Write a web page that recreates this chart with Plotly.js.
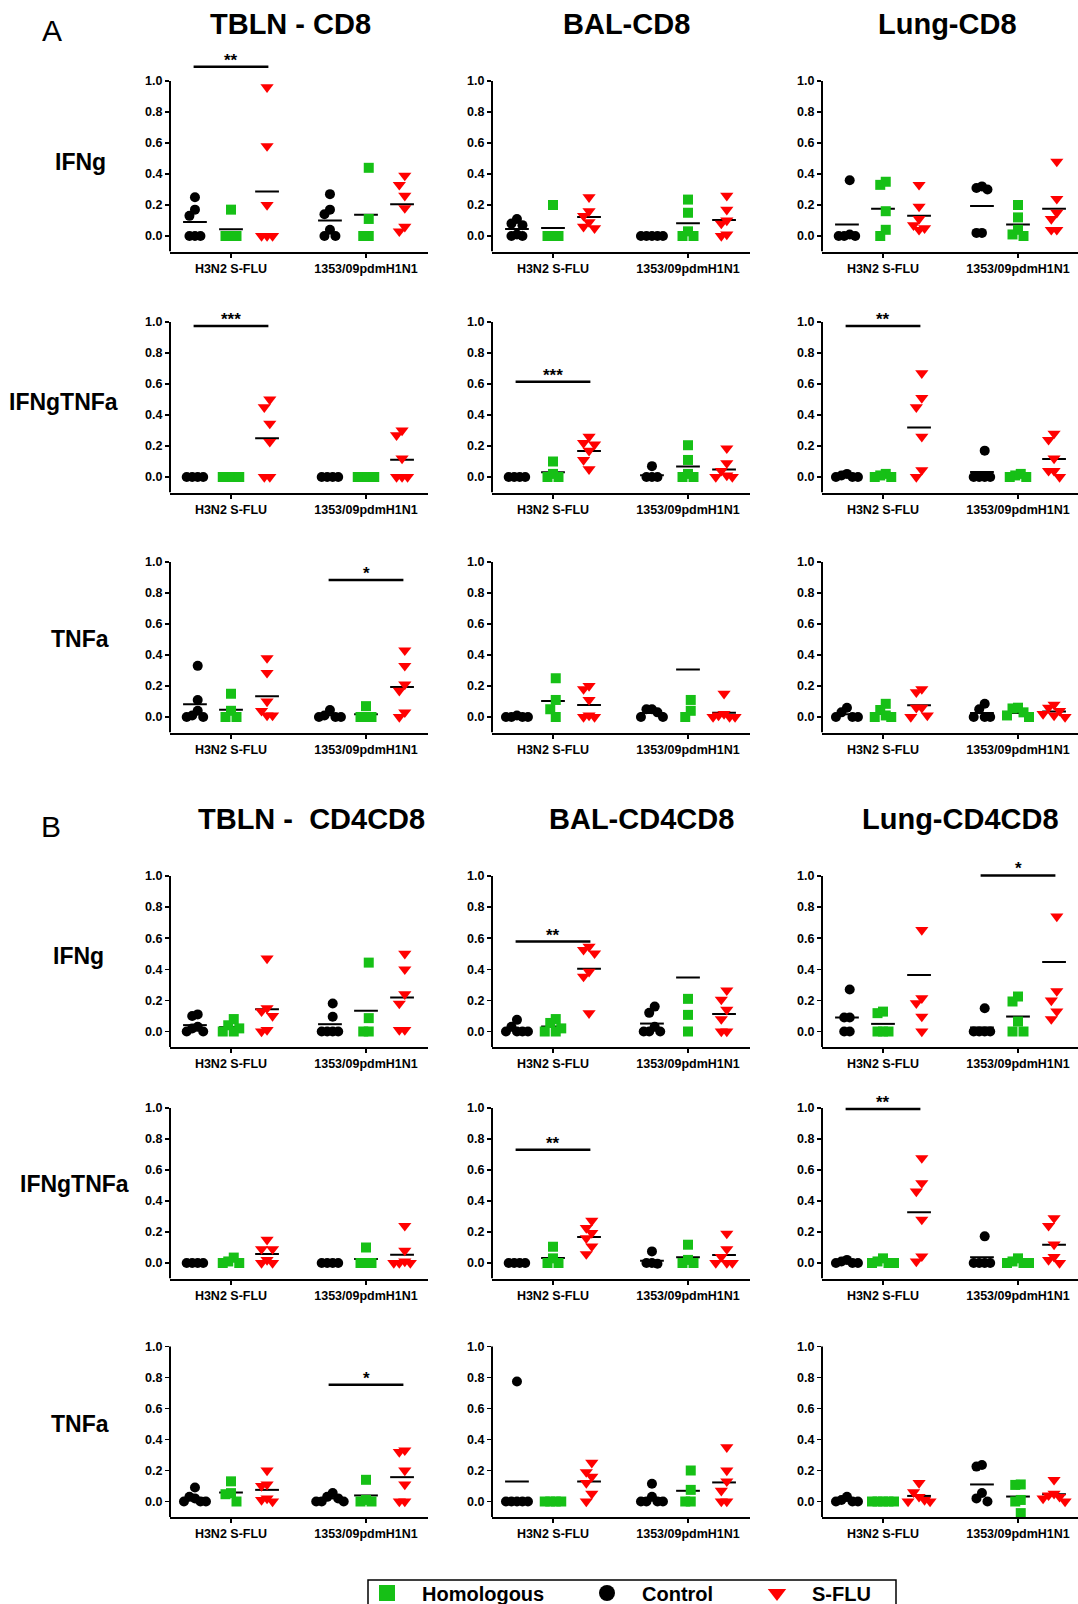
<!DOCTYPE html>
<html><head><meta charset="utf-8">
<script src="https://cdn.plot.ly/plotly-3.0.1.min.js"></script>
<style>html,body{margin:0;padding:0;background:#fff}#chart{width:1078px;height:1604px}</style>
</head><body><div id="chart"></div>
<script>
// ---------------- data ----------------
const categories = ['H3N2 S-FLU', '1353/09pdmH1N1'];
const groups = ['Control', 'Homologous', 'S-FLU'];
const legendOrder = ['Homologous', 'Control', 'S-FLU'];
const sectionLetters = ['A', 'B'];
const cytokines = ['IFNg', 'IFNgTNFa', 'TNFa'];
const titlesA = ['TBLN - CD8', 'BAL-CD8', 'Lung-CD8'];
const titlesB = ['TBLN -  CD4CD8', 'BAL-CD4CD8', 'Lung-CD4CD8'];
const yTickValues = [0, 0.2, 0.4, 0.6, 0.8, 1.0];

// each array: [H3N2 S-FLU values, 1353/09pdmH1N1 values]; means: [[Control, Homologous, S-FLU], [...]]
const A_IFNg_TBLN_control    = [[0.25,0.17,0.13,0,0,0],[0.27,0.17,0.14,0.04,0,0]];
const A_IFNg_TBLN_homologous = [[0.17,0,0,0],[0.44,0.11,0,0]];
const A_IFNg_TBLN_sflu       = [[0.96,0.58,0.2,0,0,0],[0.39,0.33,0.26,0.18,0.03,0.06]];
const A_IFNg_TBLN_means      = [[0.09,0.043,0.287],[0.10,0.137,0.205]];

const A_IFNg_BAL_control     = [[0.11,0.08,0.07,0.01,0,0],[0,0,0,0,0]];
const A_IFNg_BAL_homologous  = [[0.2,0,0,0],[0.235,0.15,0.03,0,0]];
const A_IFNg_BAL_sflu        = [[0.25,0.16,0.13,0.09,0.06,0.05],[0.26,0.17,0.10,0.08,0.01,0]];
const A_IFNg_BAL_means       = [[0.045,0.051,0.122],[0,0.083,0.103]];

const A_IFNg_Lung_control    = [[0.36,0.01,0,0,0],[0.31,0.32,0.30,0.02,0.02]];
const A_IFNg_Lung_homologous = [[0.33,0.35,0.16,0.04,0],[0.2,0.12,0.04,0.01,0]];
const A_IFNg_Lung_sflu       = [[0.33,0.19,0.11,0.07,0.05,0.04],[0.48,0.24,0.15,0.11,0.04,0.04]];
const A_IFNg_Lung_means      = [[0.075,0.176,0.131],[0.193,0.075,0.176]];

const A_IFNgTNFa_TBLN_control    = [[0,0,0,0],[0,0,0,0]];
const A_IFNgTNFa_TBLN_homologous = [[0,0,0,0],[0,0,0,0]];
const A_IFNgTNFa_TBLN_sflu       = [[0.5,0.45,0.345,0.227,0,0],[0.27,0.3,0.12,0,0,0]];
const A_IFNgTNFa_TBLN_means      = [[0,0,0.25],[0,0,0.112]];

const A_IFNgTNFa_BAL_control    = [[0,0,0,0],[0.07,0,0,0]];
const A_IFNgTNFa_BAL_homologous = [[0.1,0.02,0,0],[0.205,0.11,0.02,0,0]];
const A_IFNgTNFa_BAL_sflu       = [[0.26,0.22,0.21,0.17,0.11,0.05],[0.185,0.09,0.04,0.01,0,0]];
const A_IFNgTNFa_BAL_means      = [[0,0.031,0.168],[0.012,0.067,0.049]];

const A_IFNgTNFa_Lung_control    = [[0.02,0.01,0,0,0],[0.17,0,0,0,0]];
const A_IFNgTNFa_Lung_homologous = [[0.02,0.01,0,0],[0.02,0.01,0,0]];
const A_IFNgTNFa_Lung_sflu       = [[0.67,0.51,0.45,0.26,0.045,0],[0.28,0.24,0.12,0.04,0.04,0]];
const A_IFNgTNFa_Lung_means      = [[0.005,0.006,0.32],[0.032,0.006,0.116]];

const A_TNFa_TBLN_control    = [[0.33,0.11,0.04,0.01,0,0],[0.045,0.01,0,0,0]];
const A_TNFa_TBLN_homologous = [[0.15,0.04,0,0],[0.07,0,0,0]];
const A_TNFa_TBLN_sflu       = [[0.38,0.285,0.1,0.04,0.01,0.01],[0.43,0.33,0.21,0.17,0.03,0]];
const A_TNFa_TBLN_means      = [[0.082,0.047,0.134],[0.012,0.017,0.194]];

const A_TNFa_BAL_control    = [[0.01,0,0,0,0],[0.05,0.05,0.03,0,0]];
const A_TNFa_BAL_homologous = [[0.25,0.11,0.05,0],[0.11,0.04,0]];
const A_TNFa_BAL_sflu       = [[0.2,0.18,0.11,0.01,0,0],[0.15,0.02,0.01,0,0,0]];
const A_TNFa_BAL_means      = [[0.003,0.103,0.078],[0.026,0.306,0.027]];

const A_TNFa_Lung_control    = [[0.06,0.03,0,0,0],[0.085,0.05,0,0,0]];
const A_TNFa_Lung_homologous = [[0.085,0.045,0.01,0,0],[0.06,0.055,0.03,0.01,0]];
const A_TNFa_Lung_sflu       = [[0.18,0.16,0.06,0.06,0.01,0],[0.08,0.06,0.04,0.02,0.01,0]];
const A_TNFa_Lung_means      = [[0.017,0.026,0.075],[0.026,0.026,0.035]];

const B_IFNg_TBLN_control    = [[0.11,0.10,0.03,0.02,0,0],[0.18,0.095,0,0,0,0]];
const B_IFNg_TBLN_homologous = [[0.08,0.04,0.02,0,0],[0.443,0.086,0,0]];
const B_IFNg_TBLN_sflu       = [[0.47,0.15,0.13,0.1,0,0.01],[0.5,0.4,0.24,0.18,0.01,0.01]];
const B_IFNg_TBLN_means      = [[0.041,0.028,0.143],[0.047,0.133,0.218]];

const B_IFNg_BAL_control    = [[0.075,0.03,0,0,0,0],[0.16,0.12,0.03,0,0,0]];
const B_IFNg_BAL_homologous = [[0.08,0.055,0.02,0,0],[0.21,0.107,0]];
const B_IFNg_BAL_sflu       = [[0.546,0.525,0.503,0.385,0.353,0.118],[0.265,0.205,0.14,0.08,0,0]];
const B_IFNg_BAL_means      = [[0.017,0.032,0.403],[0.051,0.347,0.113]];

const B_IFNg_Lung_control    = [[0.27,0.09,0.09,0,0],[0.15,0,0,0,0]];
const B_IFNg_Lung_homologous = [[0.128,0.118,0,0,0],[0.225,0.193,0.064,0,0]];
const B_IFNg_Lung_sflu       = [[0.653,0.214,0.182,0.096,0],[0.74,0.26,0.2,0.13,0.08]];
const B_IFNg_Lung_means      = [[0.09,0.049,0.364],[0.026,0.096,0.447]];

const B_IFNgTNFa_TBLN_control    = [[0,0,0,0],[0,0,0,0]];
const B_IFNgTNFa_TBLN_homologous = [[0.035,0.01,0,0],[0.1,0,0,0]];
const B_IFNgTNFa_TBLN_sflu       = [[0.15,0.09,0.09,0.02,0,0],[0.24,0.08,0.01,0,0,0]];
const B_IFNgTNFa_TBLN_means      = [[0,0.011,0.058],[0,0.026,0.054]];

const B_IFNgTNFa_BAL_control    = [[0,0,0,0],[0.075,0,0,-0.005]];
const B_IFNgTNFa_BAL_homologous = [[0.105,0.03,0,0],[0.118,0.02,0,0]];
const B_IFNgTNFa_BAL_sflu       = [[0.273,0.226,0.194,0.16,0.108,0.058],[0.19,0.09,0.04,0,0,0]];
const B_IFNgTNFa_BAL_means      = [[0,0.032,0.168],[0.015,0.037,0.052]];

const B_IFNgTNFa_Lung_control    = [[0.02,0.01,0,0,0],[0.172,0,0,0,0]];
const B_IFNgTNFa_Lung_homologous = [[0.03,0.01,0,0,0],[0.03,0.01,0,0,0]];
const B_IFNgTNFa_Lung_sflu       = [[0.677,0.516,0.462,0.28,0.043,0.01],[0.29,0.24,0.12,0.04,0.02,0]];
const B_IFNgTNFa_Lung_means      = [[0.005,0.006,0.327],[0.037,0.01,0.118]];

const B_TNFa_TBLN_control    = [[0.09,0.03,0.02,0,0,0],[0.055,0.03,0.02,0,0,0]];
const B_TNFa_TBLN_homologous = [[0.13,0.054,0.047,0],[0.14,0.01,0,0]];
const B_TNFa_TBLN_sflu       = [[0.2,0.11,0.1,0.02,0.01,0],[0.32,0.33,0.2,0.11,0,0]];
const B_TNFa_TBLN_means      = [[0.023,0.058,0.075],[0.02,0.039,0.157]];

const B_TNFa_BAL_control    = [[0.774,0,0,0,0,0],[0.115,0.03,0,0,0,0]];
const B_TNFa_BAL_homologous = [[0,0,0,0],[0.2,0.075,0,0]];
const B_TNFa_BAL_sflu       = [[0.25,0.19,0.16,0.12,0.05,0],[0.35,0.2,0.13,0.07,0,0]];
const B_TNFa_BAL_means      = [[0.129,0,0.129],[0.022,0.069,0.123]];

const B_TNFa_Lung_control    = [[0.03,0.01,0,0,0],[0.235,0.225,0.055,0.02,0]];
const B_TNFa_Lung_homologous = [[0,0,0,0,0],[0.11,0.107,0.01,0,-0.075]];
const B_TNFa_Lung_sflu       = [[0.12,0.06,0.03,0.01,0,0],[0.14,0.05,0.04,0.03,0.02,0]];
const B_TNFa_Lung_means      = [[0.005,0,0.036],[0.11,0.032,0.047]];

// significance: [panel key, category index, bar height, label]  (Control vs S-FLU)
const significance = [
  ['A_IFNg_TBLN', 0, 1.092, '**'],
  ['A_IFNgTNFa_TBLN', 0, 0.974, '***'],
  ['A_IFNgTNFa_BAL', 0, 0.614, '***'],
  ['A_IFNgTNFa_Lung', 0, 0.974, '**'],
  ['A_TNFa_TBLN', 1, 0.884, '*'],
  ['B_IFNg_BAL', 0, 0.578, '**'],
  ['B_IFNg_Lung', 1, 1.004, '*'],
  ['B_IFNgTNFa_BAL', 0, 0.731, '**'],
  ['B_IFNgTNFa_Lung', 0, 0.994, '**'],
  ['B_TNFa_TBLN', 1, 0.753, '*']
];

const panelKeys = [
  'A_IFNg_TBLN','A_IFNg_BAL','A_IFNg_Lung',
  'A_IFNgTNFa_TBLN','A_IFNgTNFa_BAL','A_IFNgTNFa_Lung',
  'A_TNFa_TBLN','A_TNFa_BAL','A_TNFa_Lung',
  'B_IFNg_TBLN','B_IFNg_BAL','B_IFNg_Lung',
  'B_IFNgTNFa_TBLN','B_IFNgTNFa_BAL','B_IFNgTNFa_Lung',
  'B_TNFa_TBLN','B_TNFa_BAL','B_TNFa_Lung'
];
const panelData = [
  [A_IFNg_TBLN_control, A_IFNg_TBLN_homologous, A_IFNg_TBLN_sflu, A_IFNg_TBLN_means],
  [A_IFNg_BAL_control, A_IFNg_BAL_homologous, A_IFNg_BAL_sflu, A_IFNg_BAL_means],
  [A_IFNg_Lung_control, A_IFNg_Lung_homologous, A_IFNg_Lung_sflu, A_IFNg_Lung_means],
  [A_IFNgTNFa_TBLN_control, A_IFNgTNFa_TBLN_homologous, A_IFNgTNFa_TBLN_sflu, A_IFNgTNFa_TBLN_means],
  [A_IFNgTNFa_BAL_control, A_IFNgTNFa_BAL_homologous, A_IFNgTNFa_BAL_sflu, A_IFNgTNFa_BAL_means],
  [A_IFNgTNFa_Lung_control, A_IFNgTNFa_Lung_homologous, A_IFNgTNFa_Lung_sflu, A_IFNgTNFa_Lung_means],
  [A_TNFa_TBLN_control, A_TNFa_TBLN_homologous, A_TNFa_TBLN_sflu, A_TNFa_TBLN_means],
  [A_TNFa_BAL_control, A_TNFa_BAL_homologous, A_TNFa_BAL_sflu, A_TNFa_BAL_means],
  [A_TNFa_Lung_control, A_TNFa_Lung_homologous, A_TNFa_Lung_sflu, A_TNFa_Lung_means],
  [B_IFNg_TBLN_control, B_IFNg_TBLN_homologous, B_IFNg_TBLN_sflu, B_IFNg_TBLN_means],
  [B_IFNg_BAL_control, B_IFNg_BAL_homologous, B_IFNg_BAL_sflu, B_IFNg_BAL_means],
  [B_IFNg_Lung_control, B_IFNg_Lung_homologous, B_IFNg_Lung_sflu, B_IFNg_Lung_means],
  [B_IFNgTNFa_TBLN_control, B_IFNgTNFa_TBLN_homologous, B_IFNgTNFa_TBLN_sflu, B_IFNgTNFa_TBLN_means],
  [B_IFNgTNFa_BAL_control, B_IFNgTNFa_BAL_homologous, B_IFNgTNFa_BAL_sflu, B_IFNgTNFa_BAL_means],
  [B_IFNgTNFa_Lung_control, B_IFNgTNFa_Lung_homologous, B_IFNgTNFa_Lung_sflu, B_IFNgTNFa_Lung_means],
  [B_TNFa_TBLN_control, B_TNFa_TBLN_homologous, B_TNFa_TBLN_sflu, B_TNFa_TBLN_means],
  [B_TNFa_BAL_control, B_TNFa_BAL_homologous, B_TNFa_BAL_sflu, B_TNFa_BAL_means],
  [B_TNFa_Lung_control, B_TNFa_Lung_homologous, B_TNFa_Lung_sflu, B_TNFa_Lung_means]
];

// ---------------- styling / layout geometry ----------------
const W = 1078, H = 1604;
const FONT = 'Liberation Sans, Arial, sans-serif';
const groupStyle = {
  'Control':    {color: '#000000', symbol: 'circle', size: 10},
  'Homologous': {color: '#16c016', symbol: 'square', size: 10},
  'S-FLU':      {color: '#ff0000', symbol: 'triangle-down', size: 11.5}
};
const PX_PER_X = 135;
const GROUP_OFFSET = 0.267;
const MEAN_HALF = 0.088;
const colAxisPx = [170, 492, 822], colEndPx = [428, 750, 1078];
const rowPx = [[81,236],[322,477],[562,717],[876,1031.5],[1108,1263],[1346.5,1501.5]];
const yRange = [-0.1, 1.12];

function swarm(vals, pxPerY) {
  const step = 5.5, ry = 10;
  const idx = vals.map((v, i) => i).sort((a, b) => vals[b] - vals[a]);
  const placed = [], off = new Array(vals.length).fill(0);
  idx.forEach(i => {
    const ypx = vals[i] * pxPerY;
    for (let k = 0; k < 60; k++) {
      const cand = k === 0 ? 0 : (k % 2 ? -Math.ceil(k / 2) : Math.ceil(k / 2)) * step;
      const ok = placed.every(p => {
        const dx = (cand - p.x) / step, dy = (ypx - p.y) / ry;
        return dx * dx + dy * dy >= 0.999;
      });
      if (ok) { off[i] = cand; placed.push({x: cand, y: ypx}); break; }
    }
  });
  const mn = Math.min(...off), mx = Math.max(...off), c = (mn + mx) / 2;
  return off.map(o => (o - c) / PX_PER_X);
}

const traces = [], shapes = [], annotations = [];
const layout = {
  width: W, height: H, margin: {l: 0, r: 0, t: 0, b: 0, autoexpand: false},
  paper_bgcolor: '#ffffff', plot_bgcolor: 'rgba(0,0,0,0)',
  font: {family: FONT, color: '#000'},
  showlegend: true
};

panelData.forEach((pd, p) => {
  const s = Math.floor(p / 9), r = Math.floor((p % 9) / 3), c = p % 3;
  const n = p + 1;
  const xa = n === 1 ? 'x' : 'x' + n, ya = n === 1 ? 'y' : 'y' + n;
  const xKey = n === 1 ? 'xaxis' : 'xaxis' + n, yKey = n === 1 ? 'yaxis' : 'yaxis' + n;
  const [y1px, y0px] = rowPx[s * 3 + r];
  const unit = y0px - y1px;
  const topPx = y1px - (yRange[1] - 1) * unit, botPx = y0px - yRange[0] * unit;
  const axPx = colAxisPx[c], endPx = colEndPx[c];
  layout[xKey] = {
    domain: [axPx / W, endPx / W], range: [1 - 61 / PX_PER_X, 1 + (endPx - axPx - 61) / PX_PER_X],
    anchor: ya, tickmode: 'array', tickvals: [1, 2], ticktext: categories,
    ticks: 'outside', ticklen: 4, tickwidth: 1.5, tickcolor: '#000',
    showline: true, linewidth: 2, linecolor: '#000', showgrid: false, zeroline: false, automargin: false,
    tickfont: {family: FONT, size: 12.5, weight: 'bold', color: '#000'}, fixedrange: true
  };
  layout[yKey] = {
    domain: [1 - botPx / H, 1 - topPx / H], range: yRange, anchor: xa,
    tickmode: 'array', tickvals: yTickValues, ticktext: yTickValues.map(v => v.toFixed(1)),
    ticks: 'outside', ticklen: 4, tickwidth: 1.5, tickcolor: '#000',
    showline: false, showgrid: false, zeroline: false, automargin: false,
    tickfont: {family: FONT, size: 12.5, weight: 'bold', color: '#000'}, fixedrange: true
  };
  // y axis line from -0.1 to 1.0
  shapes.push({type: 'line', xref: xa + ' domain', yref: ya, x0: 0, x1: 0, y0: yRange[0], y1: 1,
    line: {color: '#000', width: 2}});
  // mean lines
  const mx = [], my = [];
  pd[3].forEach((catMeans, ci) => catMeans.forEach((m, gi) => {
    const cx = ci + 1 + (gi - 1) * GROUP_OFFSET;
    mx.push(cx - MEAN_HALF, cx + MEAN_HALF, null); my.push(m, m, null);
  }));
  traces.push({x: mx, y: my, xaxis: xa, yaxis: ya, type: 'scatter', mode: 'lines',
    line: {color: '#000', width: 2}, showlegend: false, hoverinfo: 'skip'});
  // points
  groups.forEach((g, gi) => {
    const x = [], y = [];
    pd[gi].forEach((catVals, ci) => {
      const offs = swarm(catVals, unit);
      catVals.forEach((v, k) => { x.push(ci + 1 + (gi - 1) * GROUP_OFFSET + offs[k]); y.push(v); });
    });
    const st = groupStyle[g];
    traces.push({x, y, xaxis: xa, yaxis: ya, type: 'scatter', mode: 'markers', name: g,
      marker: {color: st.color, symbol: st.symbol, size: st.size, line: {width: 0}},
      cliponaxis: false, showlegend: false});
  });
});

// significance bars
significance.forEach(([key, ci, yv, label]) => {
  const n = panelKeys.indexOf(key) + 1;
  const xa = n === 1 ? 'x' : 'x' + n, ya = n === 1 ? 'y' : 'y' + n;
  const cx = ci + 1;
  shapes.push({type: 'line', xref: xa, yref: ya, x0: cx - GROUP_OFFSET - 0.01, x1: cx + GROUP_OFFSET + 0.01,
    y0: yv, y1: yv, line: {color: '#000', width: 2.5}});
  annotations.push({xref: xa, yref: ya, x: cx, y: yv, text: label, showarrow: false,
    xanchor: 'center', yanchor: 'bottom', yshift: -5,
    font: {family: FONT, size: 17, weight: 'bold', color: '#000'}});
});

// text labels (px positions)
function paperAnn(text, px, py, size, bold) {
  annotations.push({xref: 'paper', yref: 'paper', x: px / W, y: 1 - py / H, text,
    showarrow: false, xanchor: 'center', yanchor: 'middle',
    font: {family: FONT, size, weight: bold ? 'bold' : 'normal', color: '#000'}});
}
paperAnn(sectionLetters[0], 52, 30, 30, false);
paperAnn(sectionLetters[1], 51, 827, 30, false);
[290, 626, 947].forEach((x, i) => paperAnn(titlesA[i], x, 24, 29, true));
[311, 641, 960].forEach((x, i) => paperAnn(titlesB[i], x, 819, 29, true));
const rowLabelPos = [[80,162],[63,402],[80,639],[78,956],[74,1184],[80,1424]];
rowLabelPos.forEach(([x, y], i) => paperAnn(cytokines[i % 3], x, y, 23, true));

// legend entries (one legend per entry so the spacing matches; common frame drawn as a shape)
const legendIds = ['legend', 'legend2', 'legend3'];
const legendSymbolPx = [387, 607, 777];
legendOrder.forEach((g, i) => {
  const st = groupStyle[g];
  traces.push({x: [null], y: [null], xaxis: 'x', yaxis: 'y', type: 'scatter', mode: 'markers', name: g,
    legend: legendIds[i],
    marker: {color: st.color, symbol: st.symbol, size: 16}, showlegend: true, hoverinfo: 'skip'});
  layout[legendIds[i]] = {
    orientation: 'h', x: (legendSymbolPx[i] - 35) / W, xanchor: 'left', y: 1 - 1593 / H, yanchor: 'middle',
    borderwidth: 0, bgcolor: 'rgba(0,0,0,0)', itemwidth: 60,
    font: {family: FONT, size: 20, weight: 'bold', color: '#000'}
  };
});
shapes.push({type: 'rect', xref: 'paper', yref: 'paper', x0: 368 / W, x1: 896 / W,
  y0: 1 - 1614 / H, y1: 1 - 1580 / H, line: {color: '#000', width: 1.5}, fillcolor: 'rgba(0,0,0,0)'});

layout.shapes = shapes;
layout.annotations = annotations;
Plotly.newPlot('chart', traces, layout, {staticPlot: true, displayModeBar: false});
</script></body></html>
